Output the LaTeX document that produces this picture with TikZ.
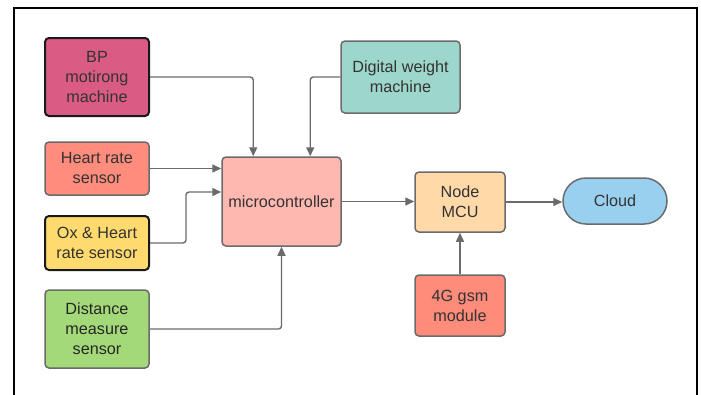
\documentclass[tikz,border=0pt]{standalone}
\usepackage{fontspec}
\setmainfont{Liberation Sans}
\usetikzlibrary{calc,arrows.meta}
\definecolor{txt}{HTML}{333333}
\definecolor{edge}{HTML}{6B6B6B}
\definecolor{cbp}{HTML}{DA5C84}
\definecolor{cheart}{HTML}{FF8C7C}
\definecolor{cox}{HTML}{FFDA6E}
\definecolor{cdist}{HTML}{A3D978}
\definecolor{cmicro}{HTML}{FFB8B0}
\definecolor{cdig}{HTML}{9DD6CA}
\definecolor{cmcu}{HTML}{FFD9A8}
\definecolor{ccloud}{HTML}{99D0F0}
\definecolor{cgsm}{HTML}{FF8B7B}
\tikzset{
  blk/.style={draw=edge, line width=1.5pt, rounded corners=4pt, align=center,
    text=txt, font=\fontsize{16.2}{20}\selectfont, inner sep=0pt},
  dark/.style={draw=black!90, line width=2pt},
  arr/.style={draw=edge, line width=1.4pt, rounded corners=3pt,
    -{Triangle[length=9pt,width=8pt]}},
}
\begin{document}
\begin{tikzpicture}[x=1pt,y=-1pt]
\useasboundingbox (0,0) rectangle (701,394);
\draw[line width=2pt, black] (14,400) -- (14,8) -- (697,8) -- (697,400);

\node[blk, dark, fill=cbp, minimum width=104pt, minimum height=78pt] (bp) at (97,77) {BP\\motirong\\machine};
\node[blk, fill=cheart, minimum width=104pt, minimum height=53pt] (heart) at (97,168.5) {Heart rate\\sensor};
\node[blk, dark, fill=cox, minimum width=104pt, minimum height=54pt] (ox) at (97,243) {Ox \& Heart\\rate sensor};
\node[blk, fill=cdist, minimum width=104pt, minimum height=78pt, text=black!85] (dist) at (97,329) {Distance\\measure\\sensor};
\node[blk, fill=cmicro, minimum width=119pt, minimum height=89pt] (micro) at (281.5,201.5) {microcontroller};
\node[blk, fill=cdig, minimum width=119pt, minimum height=72pt] (dig) at (400.5,77) {Digital weight\\machine};
\node[blk, fill=cmcu, minimum width=90pt, minimum height=60pt] (mcu) at (460,202) {Node\\MCU};
\node[blk, fill=ccloud, minimum width=104pt, minimum height=46pt, rounded corners=23pt] (cloud) at (615,201) {Cloud};
\node[blk, fill=cgsm, minimum width=90pt, minimum height=61pt] (gsm) at (460,305.5) {4G gsm\\module};

\coordinate (bpin) at ($(micro.north west)+(32,0)$);
\coordinate (digin) at ($(micro.north west)+(89,0)$);
\coordinate (oxin) at ($(micro.west)+(0,-9.5)$);
\coordinate (oxbend) at ($(ox.east)+(36,0)$);

\draw[arr] (bp.east) -| (bpin);
\draw[arr] (dig.west) -| (digin);
\draw[arr] (heart.east) -- (heart.east -| micro.west);
\draw[arr] (ox.east) -- (oxbend) |- (oxin);
\draw[arr] (dist.east) -| (micro.south);
\draw[arr] (micro.east) -- (micro.east -| mcu.west);
\draw[arr] (mcu.east) -- (mcu.east -| cloud.west);
\draw[arr] (gsm.north) -- (mcu.south);
\end{tikzpicture}
\end{document}
